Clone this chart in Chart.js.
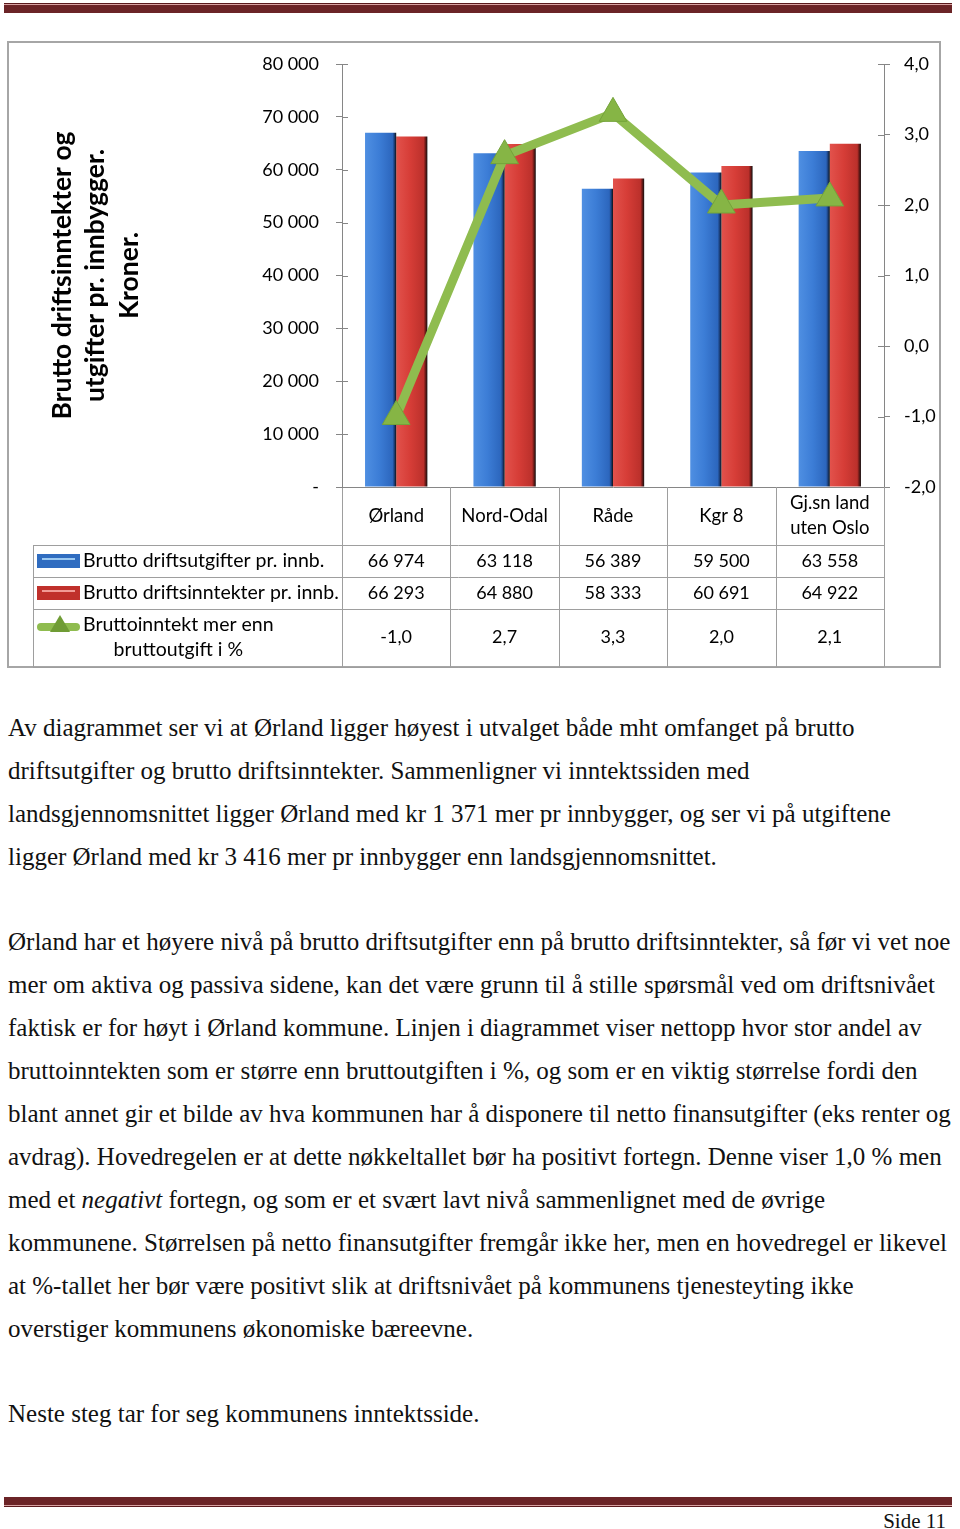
<!DOCTYPE html>
<html lang="no">
<head>
<meta charset="utf-8">
<title>Brutto driftsinntekter og utgifter</title>
<script src="https://cdn.jsdelivr.net/npm/chart.js@4.4.1/dist/chart.umd.min.js"></script>
<style>
  html, body { margin: 0; padding: 0; background: #fff; }
  body { position: relative; width: 960px; height: 1529px; overflow: hidden; }
  .strek { position: absolute; left: 4px; width: 948px; }
  #diagram { position: absolute; left: 0; top: 0; }
  .tekst {
    position: absolute; left: 8px;
    font-family: "Liberation Serif", "Times New Roman", serif;
    font-size: 25px; line-height: 43px; color: #111; white-space: nowrap;
  }
  .side {
    position: absolute; right: 14px; top: 1509px;
    font-family: "Liberation Serif", serif; font-size: 21px; line-height: 24px; color: #111;
  }
</style>
</head>
<body>
<!-- topplinje -->
<div class="strek" style="top:3px;height:1px;background:#5a1a1d"></div>
<div class="strek" style="top:4px;height:1px;background:#d9a3a3"></div>
<div class="strek" style="top:5px;height:8px;background:#6b2427"></div>

<canvas id="diagram" width="960" height="680"></canvas>

<div class="tekst" style="top:706px">
Av diagrammet ser vi at Ørland ligger høyest i utvalget både mht omfanget på brutto<br>
driftsutgifter og brutto driftsinntekter. Sammenligner vi inntektssiden med<br>
landsgjennomsnittet ligger Ørland med kr 1 371 mer pr innbygger, og ser vi på utgiftene<br>
ligger Ørland med kr 3 416 mer pr innbygger enn landsgjennomsnittet.
</div>

<div class="tekst" style="top:920px">
Ørland har et høyere nivå på brutto driftsutgifter enn på brutto driftsinntekter, så før vi vet noe<br>
mer om aktiva og passiva sidene, kan det være grunn til å stille spørsmål ved om driftsnivået<br>
faktisk er for høyt i Ørland kommune. Linjen i diagrammet viser nettopp hvor stor andel av<br>
bruttoinntekten som er større enn bruttoutgiften i %, og som er en viktig størrelse fordi den<br>
blant annet gir et bilde av hva kommunen har å disponere til netto finansutgifter (eks renter og<br>
avdrag). Hovedregelen er at dette nøkkeltallet bør ha positivt fortegn. Denne viser 1,0 % men<br>
med et <i>negativt</i> fortegn, og som er et svært lavt nivå sammenlignet med de øvrige<br>
kommunene. Størrelsen på netto finansutgifter fremgår ikke her, men en hovedregel er likevel<br>
at %-tallet her bør være positivt slik at driftsnivået på kommunens tjenesteyting ikke<br>
overstiger kommunens økonomiske bæreevne.
</div>

<div class="tekst" style="top:1392px">Neste steg tar for seg kommunens inntektsside.</div>

<!-- bunnlinje -->
<div class="strek" style="top:1497px;height:8px;background:#6b2427"></div>
<div class="strek" style="top:1505px;height:1px;background:#d9a3a3"></div>
<div class="strek" style="top:1506px;height:1px;background:#5a1a1d"></div>
<div class="side">Side 11</div>

<script>
"use strict";

// Data lest av diagrammet
const categories = ["Ørland", "Nord-Odal", "Råde", "Kgr 8", ["Gj.sn land", "uten Oslo"]];
const utgifter = [66974, 63118, 56389, 59500, 63558];   // Brutto driftsutgifter pr. innb.
const inntekter = [66293, 64880, 58333, 60691, 64922];  // Brutto driftsinntekter pr. innb.
const netto = [-1.0, 2.7, 3.3, 2.0, 2.1];               // Bruttoinntekt mer enn bruttoutgift i %
const seriesNames = ["Brutto driftsutgifter pr. innb.", "Brutto driftsinntekter pr. innb.", ["Bruttoinntekt mer enn", "bruttoutgift i %"]];
const yTitle = ["Brutto driftsinntekter og", "utgifter pr. innbygger.", "Kroner."];
const kronerTicks = [0, 10000, 20000, 30000, 40000, 50000, 60000, 70000, 80000];
const prosentTicks = [-2, -1, 0, 1, 2, 3, 4];

const catPct = 0.575;
const axisGrey = "#868686";
const gridGrey = "#9e9e9e";
const green = "#8fbc4f";

Chart.defaults.font.family = "Lato, 'Open Sans', sans-serif";
Chart.defaults.color = "#000";

// Tall med mellomrom som tusenskille
function tall(v) {
  return String(v).replace(/\B(?=(\d{3})+(?!\d))/g, " ");
}
function komma(v) {
  return v.toFixed(1).replace(".", ",");
}

// Søylene får en vannrett gradient slik at de ser litt runde ut
function barFill(stops) {
  return (ctx) => {
    const xs = ctx.chart.scales.x;
    if (ctx.type !== "data" || !xs) return stops[1][1];
    const barW = xs.width / categories.length * catPct / 2;
    const left = xs.getPixelForValue(ctx.dataIndex) - barW + ctx.datasetIndex * barW;
    if (!Number.isFinite(left) || !Number.isFinite(barW) || barW <= 0) return stops[1][1]; //skalaen er ikke klar ennå
    const g = ctx.chart.ctx.createLinearGradient(left, 0, left + barW, 0);
    stops.forEach(s => g.addColorStop(s[0], s[1]));
    return g;
  };
}
const blueStops = [[0, "#4f8fe2"], [0.45, "#3c7dd6"], [0.88, "#2c66bd"], [0.94, "#1b3f7a"], [1, "#111"]];
const redStops = [[0, "#e2524c"], [0.45, "#d63d37"], [0.88, "#bb302b"], [0.94, "#6a1a17"], [1, "#111"]];

// Tabellen under diagrammet, rammen og de indre tikkmerkene
const tabell = {
  id: "tabell",
  afterDraw(chart) {
    const c = chart.ctx;
    const xs = chart.scales.x;
    const yl = chart.scales.y;
    const yr = chart.scales.y1;
    const bunn = chart.chartArea.bottom;
    const n = categories.length;
    const w = xs.width / n;
    const rader = [545, 577, 609, 667];
    const venstre = 33;

    c.save();
    c.strokeStyle = "#a6a6a6";
    c.lineWidth = 2;
    c.strokeRect(8, 42, 932, 625);

    c.strokeStyle = gridGrey;
    c.lineWidth = 1;
    c.beginPath();
    for (let i = 0; i <= n; i++) {
      const x = Math.round(xs.left + i * w) + 0.5;
      c.moveTo(x, bunn);
      c.lineTo(x, rader[3]);
    }
    c.moveTo(venstre + 0.5, rader[0]);
    c.lineTo(venstre + 0.5, rader[3]);
    rader.forEach(y => {
      c.moveTo(venstre, y + 0.5);
      c.lineTo(xs.right, y + 0.5);
    });
    c.stroke();

    // tikkmerkene går litt inn i plottet også
    c.strokeStyle = axisGrey;
    c.beginPath();
    yl.ticks.forEach(t => {
      const y = Math.round(yl.getPixelForValue(t.value)) + 0.5;
      c.moveTo(yl.right, y);
      c.lineTo(yl.right + 6, y);
    });
    yr.ticks.forEach(t => {
      const y = Math.round(yr.getPixelForValue(t.value)) + 0.5;
      c.moveTo(yr.left - 6, y);
      c.lineTo(yr.left, y);
    });
    c.stroke();

    // tekst i tabellen
    c.fillStyle = "#000";
    c.textBaseline = "middle";
    c.textAlign = "center";
    categories.forEach((kat, i) => {
      const x = xs.getPixelForValue(i);
      c.font = "18.5px Lato";
      if (Array.isArray(kat)) {
        c.fillText(kat[0], x, 503);
        c.fillText(kat[1], x, 528);
      } else {
        c.fillText(kat, x, 516);
      }
      c.font = "18px Lato";
      c.fillText(tall(utgifter[i]), x, 561);
      c.fillText(tall(inntekter[i]), x, 593);
      c.fillText(komma(netto[i]), x, 637);
    });

    c.font = "19.5px Lato";
    c.textAlign = "left";
    c.fillText(seriesNames[0], 83, 561);
    c.fillText(seriesNames[1], 83, 593);
    const midt = 83 + c.measureText(seriesNames[2][0]).width / 2;
    c.textAlign = "center";
    c.fillText(seriesNames[2][0], midt, 625);
    c.fillText(seriesNames[2][1], midt, 650);

    // forklaringssymboler
    c.fillStyle = "#2f6cc0";
    c.fillRect(37, 554, 43, 14);
    c.fillStyle = "#9ccaf2";
    c.fillRect(42, 558, 33, 2);
    c.fillStyle = "#c0302b";
    c.fillRect(37, 586, 43, 14);
    c.fillStyle = "#f19a95";
    c.fillRect(42, 590, 33, 2);

    c.strokeStyle = green;
    c.lineWidth = 8;
    c.lineCap = "round";
    c.beginPath();
    c.moveTo(41, 627);
    c.lineTo(76, 627);
    c.stroke();
    c.fillStyle = "#6f9c35";
    c.beginPath();
    c.moveTo(60, 615);
    c.lineTo(70, 632);
    c.lineTo(50, 632);
    c.closePath();
    c.fill();
    c.restore();
  }
};

new Chart(document.getElementById("diagram"), {
  type: "bar",
  data: {
    labels: categories,
    datasets: [
      {
        label: seriesNames[0],
        data: utgifter,
        yAxisID: "y",
        backgroundColor: barFill(blueStops),
        borderWidth: 0,
        categoryPercentage: catPct,
        barPercentage: 1,
        order: 1
      },
      {
        label: seriesNames[1],
        data: inntekter,
        yAxisID: "y",
        backgroundColor: barFill(redStops),
        borderWidth: 0,
        categoryPercentage: catPct,
        barPercentage: 1,
        order: 1
      },
      {
        type: "line",
        label: seriesNames[2].join(" "),
        data: netto,
        yAxisID: "y1",
        borderColor: green,
        borderWidth: 9,
        borderJoinStyle: "round",
        tension: 0,
        pointStyle: "triangle",
        pointRadius: 16,
        pointBackgroundColor: "#86b545",
        pointBorderColor: "#74a33a",
        pointBorderWidth: 1,
        order: 0
      }
    ]
  },
  options: {
    responsive: false,
    animation: false,
    layout: { padding: { top: 64, left: 0, right: 0, bottom: 0 } },
    plugins: {
      legend: { display: false },
      tooltip: { enabled: false }
    },
    scales: {
      x: {
        grid: { display: false },
        border: { color: axisGrey },
        ticks: { display: false },
        afterFit: s => { s.height = 193; }
      },
      y: {
        position: "left",
        min: kronerTicks[0],
        max: kronerTicks[kronerTicks.length - 1],
        afterBuildTicks: s => { s.ticks = kronerTicks.map(v => ({ value: v })); },
        ticks: {
          font: { size: 18 },
          padding: 17,
          callback: v => v === 0 ? "-" : tall(v)
        },
        grid: { drawOnChartArea: false, tickLength: 6, color: axisGrey },
        border: { color: axisGrey },
        title: {
          display: true,
          text: yTitle,
          font: { size: 26.5, weight: "bold", lineHeight: 1.28 },
          padding: { top: 45, bottom: 0 }
        },
        afterFit: s => { s.width = 342; }
      },
      y1: {
        position: "right",
        min: prosentTicks[0],
        max: prosentTicks[prosentTicks.length - 1],
        afterBuildTicks: s => { s.ticks = prosentTicks.map(v => ({ value: v })); },
        ticks: {
          font: { size: 18 },
          padding: 14,
          callback: v => komma(v)
        },
        grid: { drawOnChartArea: false, tickLength: 6, color: axisGrey },
        border: { color: axisGrey },
        afterFit: s => { s.width = 76; }
      }
    }
  },
  plugins: [tabell]
});
</script>
</body>
</html>
